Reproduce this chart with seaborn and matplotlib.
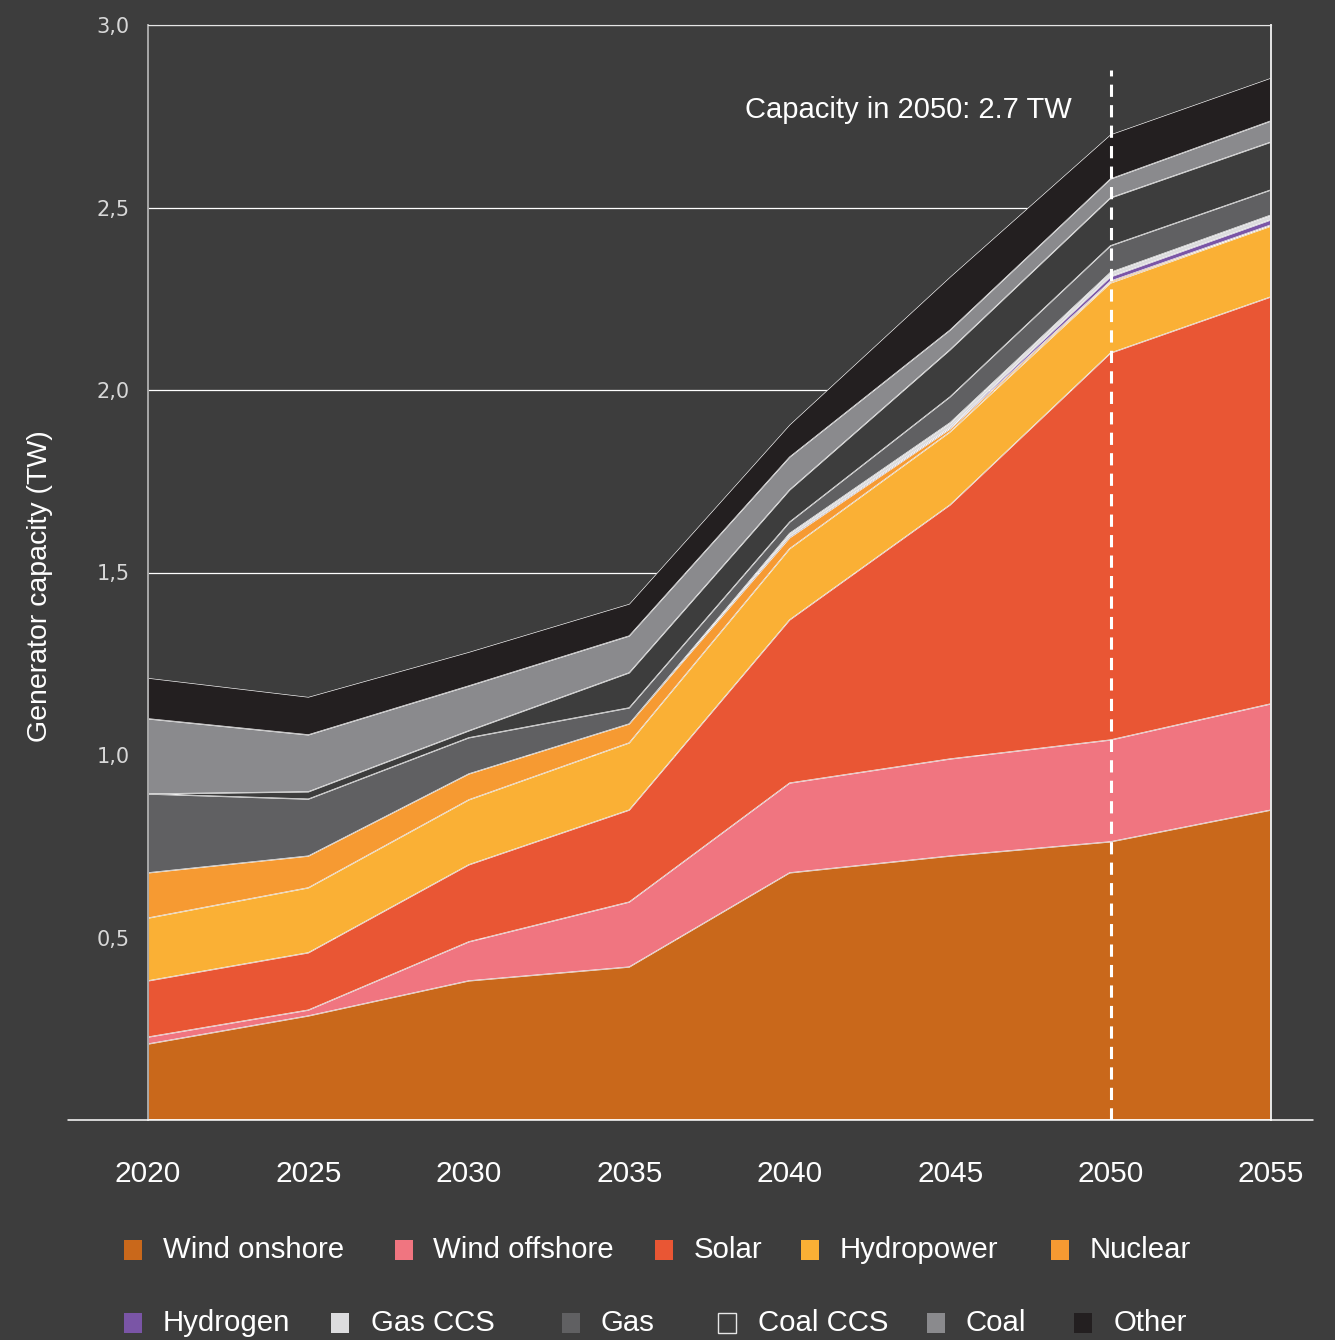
import matplotlib
matplotlib.use("Agg")
import numpy as np
import pandas as pd
import matplotlib.pyplot as plt
from matplotlib.patches import Rectangle
import seaborn as sns
import seaborn.objects as so

# ---- data (TW of installed generator capacity per technology) ----
YEARS = [2020, 2025, 2030, 2035, 2040, 2045, 2050, 2055]
TECHS = ["Wind onshore", "Wind offshore", "Solar", "Hydropower", "Nuclear",
         "Hydrogen", "Gas CCS", "Gas", "Coal CCS", "Coal", "Other"]

wind_onshore  = [0.208, 0.285, 0.381, 0.419, 0.677, 0.723, 0.762, 0.849]
wind_offshore = [0.019, 0.016, 0.107, 0.178, 0.246, 0.266, 0.279, 0.291]
solar         = [0.154, 0.157, 0.211, 0.252, 0.447, 0.696, 1.060, 1.115]
hydropower    = [0.172, 0.178, 0.178, 0.184, 0.195, 0.200, 0.192, 0.194]
nuclear       = [0.124, 0.087, 0.071, 0.052, 0.030, 0.008, 0.005, 0.003]
hydrogen      = [0.000, 0.000, 0.000, 0.000, 0.002, 0.004, 0.012, 0.014]
gas_ccs       = [0.000, 0.000, 0.000, 0.000, 0.010, 0.013, 0.012, 0.013]
gas           = [0.216, 0.156, 0.099, 0.044, 0.031, 0.071, 0.073, 0.069]
coal_ccs      = [0.000, 0.020, 0.019, 0.096, 0.088, 0.129, 0.131, 0.131]
coal          = [0.206, 0.156, 0.123, 0.101, 0.090, 0.054, 0.052, 0.058]
other         = [0.112, 0.104, 0.093, 0.088, 0.089, 0.146, 0.122, 0.118]

LAYERS = [wind_onshore, wind_offshore, solar, hydropower, nuclear,
          hydrogen, gas_ccs, gas, coal_ccs, coal, other]

Y_TICKS = [0.5, 1.0, 1.5, 2.0, 2.5, 3.0]
Y_TICK_LABELS = ["0,5", "1,0", "1,5", "2,0", "2,5", "3,0"]
X_TICK_LABELS = [str(y) for y in YEARS]

HIGHLIGHT_YEAR = 2050
HIGHLIGHT_TEXT = "Capacity in 2050: 2.7 TW"

# ---- styling ----
BG = "#3d3d3d"
COLORS = ["#c9681b", "#f07580", "#e95634", "#fab035", "#f69a32",
          "#7a55a6", "#dcdcde", "#606062", BG, "#8a8a8d", "#231f20"]

sns.set_theme(style="white", rc={
    "figure.facecolor": BG,
    "axes.facecolor": BG,
    "savefig.facecolor": BG,
    "axes.edgecolor": "white",
    "text.color": "white",
})
plt.rcParams["font.family"] = ["Liberation Sans", "DejaVu Sans"]

W, H = 1335, 1340
fig = plt.figure(figsize=(W / 100, H / 100), dpi=100)
ax = fig.add_axes([148 / W, 1 - 1120 / H, (1271 - 148) / W, (1120 - 25) / H])
ax.set_facecolor(BG)

# long-format table for the stacked areas
df = pd.DataFrame(
    [(yr, tech, val) for tech, vals in zip(TECHS, LAYERS) for yr, val in zip(YEARS, vals)],
    columns=["year", "tech", "capacity"],
)

(
    so.Plot(df, x="year", y="capacity", color="tech")
    .add(so.Area(alpha=1, edgecolor="white", edgewidth=0.45, edgealpha=1),
         so.Stack(), legend=False)
    .scale(color=so.Nominal(dict(zip(TECHS, COLORS)), order=TECHS))
    .on(ax)
    .plot()
)

# ---- axes cosmetics ----
ax.set_xlim(YEARS[0], YEARS[-1])
ax.set_ylim(0, 3.0)
ax.set_axisbelow(True)
ax.set_yticks(Y_TICKS)
ax.set_yticklabels(Y_TICK_LABELS, fontsize=15, color="#d8d8d8", family="DejaVu Sans")
ax.set_xticks(YEARS)
ax.set_xticklabels(X_TICK_LABELS, fontsize=21.5, color="white")
for lbl in ax.get_xticklabels():
    lbl.set_x(lbl.get_position()[0])
ax.tick_params(axis="y", length=0, pad=13)
ax.tick_params(axis="x", length=0, pad=29)
ax.grid(axis="y", color="white", linewidth=0.9)
ax.grid(axis="x", visible=False)
ax.set_xlabel("")
ax.set_ylabel("Generator capacity (TW)", fontsize=20.5, color="white")
ax.yaxis.set_label_coords(-0.0846, 0.488)

for side, spine in ax.spines.items():
    spine.set_visible(True)
ax.spines["bottom"].set_visible(False)
ax.spines["left"].set_color("#a8a8a8")
ax.spines["left"].set_linewidth(1.4)
ax.spines["right"].set_color("#e6e6e6")
ax.spines["right"].set_linewidth(1.4)
ax.spines["top"].set_color("#e6e6e6")
ax.spines["top"].set_linewidth(0.8)

# baseline running past both sides of the plot
ax.plot([-0.0712, 1.0374], [0, 0], transform=ax.transAxes, color="white",
        linewidth=1.1, clip_on=False, zorder=5)

# dashed marker for the highlighted year
ax.axvline(HIGHLIGHT_YEAR, ymin=0, ymax=2.877 / 3.0, color="white", linewidth=2.2,
           linestyle=(0, (4, 2.7)), zorder=4)
ax.text(2048.8, 2.767, HIGHLIGHT_TEXT, ha="right", va="center",
        fontsize=21, color="white", zorder=5)

# ---- legend, two rows laid out by hand ----
def fx(px):
    return px / W

def fy(py):
    return 1 - py / H

LEGEND_ROWS = [
    (1250, [(124, 163, 0), (395, 433, 1), (655, 694, 2), (801, 840, 3), (1051, 1090, 4)]),
    (1323, [(124, 163, 5), (331, 371, 6), (562, 600, 7), (718, 758, 8), (927, 966, 9),
            (1074, 1114, 10)]),
]
for yc, items in LEGEND_ROWS:
    for sq_x, tx, idx in items:
        is_hollow = TECHS[idx] == "Coal CCS"
        fig.add_artist(Rectangle(
            (fx(sq_x), fy(yc + 10)), 18 / W, 20 / H, transform=fig.transFigure,
            facecolor=COLORS[idx],
            edgecolor="#e6e6e6" if is_hollow else "none",
            linewidth=1.0 if is_hollow else 0,
        ))
        fig.text(fx(tx), fy(yc), TECHS[idx], ha="left", va="center",
                 fontsize=21.2, color="white")

fig.savefig("out.png", dpi=100, facecolor=BG)
